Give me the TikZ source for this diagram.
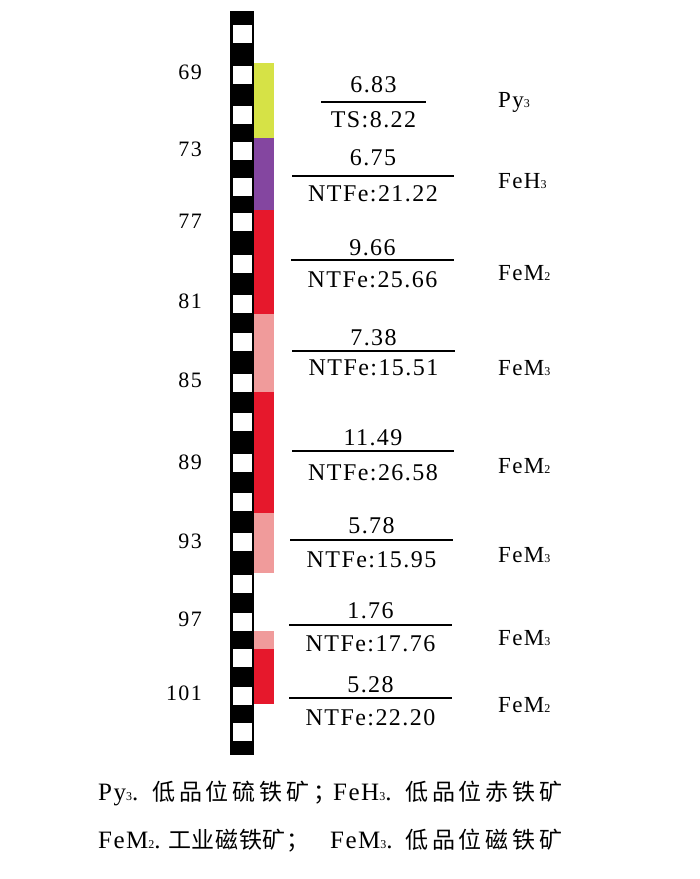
\documentclass[tikz,border=0pt]{standalone}
\usepackage{fontspec}
\setmainfont{Liberation Serif}
\newfontfamily\labfont[LetterSpace=6]{Liberation Serif}
\newfontfamily\cjkwide[LetterSpace=17]{Noto Sans CJK SC}
\newfontfamily\cjknarrow[LetterSpace=3]{Noto Sans CJK SC}
\newcommand\lsub[1]{{\fontsize{12}{12}\selectfont #1}}
\definecolor{pyy}{RGB}{214,226,70}
\definecolor{hem}{RGB}{132,70,160}
\definecolor{magr}{RGB}{230,24,44}
\definecolor{magp}{RGB}{240,155,155}
\begin{document}
\begin{tikzpicture}[x=1pt,y=-1pt,
  txt/.style={inner sep=0pt, font=\fontsize{24}{24}\labfont},
  dtxt/.style={inner sep=0pt, font=\fontsize{22}{22}\labfont},
  ltxt/.style={inner sep=0pt, anchor=base west, font=\fontsize{23}{23}\labfont},
  cjkA/.style={inner sep=0pt, anchor=base west, font=\fontsize{23}{23}\cjkwide},
  cjkB/.style={inner sep=0pt, anchor=base west, font=\fontsize{23}{23}\cjknarrow},
  lat/.style={inner sep=0pt, anchor=base west, font=\fontsize{25}{25}\labfont},
  bar/.style={line width=1.3pt, draw=black}]
\useasboundingbox (0,0) rectangle (700,879);
\fill[white] (0,0) rectangle (700,879);
% column
\fill[black] (230,11) rectangle (254,755);
\foreach \t in {25,66,106,142,178,213,255,295,333,374,413,454,493,533,575,613,649,687,723}
  \fill[white] (233,\t) rectangle (252,\t+18);
% strips
\fill[pyy] (254,63) rectangle (274,138);
\fill[hem] (254,138) rectangle (274,210);
\fill[magr] (254,210) rectangle (274,314);
\fill[magp] (254,314) rectangle (274,392);
\fill[magr] (254,392) rectangle (274,513);
\fill[magp] (254,513) rectangle (274,573);
\fill[magp] (254,631) rectangle (274,649);
\fill[magr] (254,649) rectangle (274,704);
% depth labels
\foreach \d/\y in {69/72.5,73/149.5,77/221,81/301,85/380,89/462,93/541,97/619.5,101/693.5}
  \node[dtxt, anchor=east] (dep\d) at (202,\y) {\d};
% fractions and labels
\foreach \ly/\xa/\xb/\ny/\nt/\dy/\dt/\by/\lt [count=\i] in {
  102/321/426/84.5/6.83/119.5/TS:8.22/107/Py\lsub{3},
  176/292/454/158/6.75/193.5/NTFe:21.22/188/FeH\lsub{3},
  260/291/454/247.5/9.66/280/NTFe:25.66/280/FeM\lsub{2},
  351/292/455/337.5/7.38/368/NTFe:15.51/375/FeM\lsub{3},
  451/292/454/437.5/11.49/472.5/NTFe:26.58/473.5/FeM\lsub{2},
  540/290/453/525.5/5.78/560/NTFe:15.95/562/FeM\lsub{3},
  625/289/452/610.5/1.76/644/NTFe:17.76/645.5/FeM\lsub{3},
  698/289/452/685/5.28/717.5/NTFe:22.20/712/FeM\lsub{2}}
{
  \draw[bar] (\xa,\ly) coordinate (ba\i) -- (\xb,\ly) coordinate (bb\i);
  \node[txt] (num\i) at ({(\xa+\xb)/2},\ny) {\nt};
  \node[txt] (den\i) at ({(\xa+\xb)/2},\dy) {\dt};
  \node[ltxt] (lab\i) at (498,\by) {\lt};
}
% legend
\node[lat] (lg1) at (98,800) {Py\lsub{3}.};
\node[cjkA] (lg2) at (152,800) {低品位硫铁矿；};
\node[lat] (lg3) at (333,800) {FeH\lsub{3}.};
\node[cjkA] (lg4) at (405,800) {低品位赤铁矿};
\node[lat] (lg5) at (98,848) {FeM\lsub{2}.};
\node[cjkB] (lg6) at (168,848) {工业磁铁矿；};
\node[lat] (lg7) at (330,848) {FeM\lsub{3}.};
\node[cjkA] (lg8) at (405,848) {低品位磁铁矿};
\end{tikzpicture}
\end{document}
